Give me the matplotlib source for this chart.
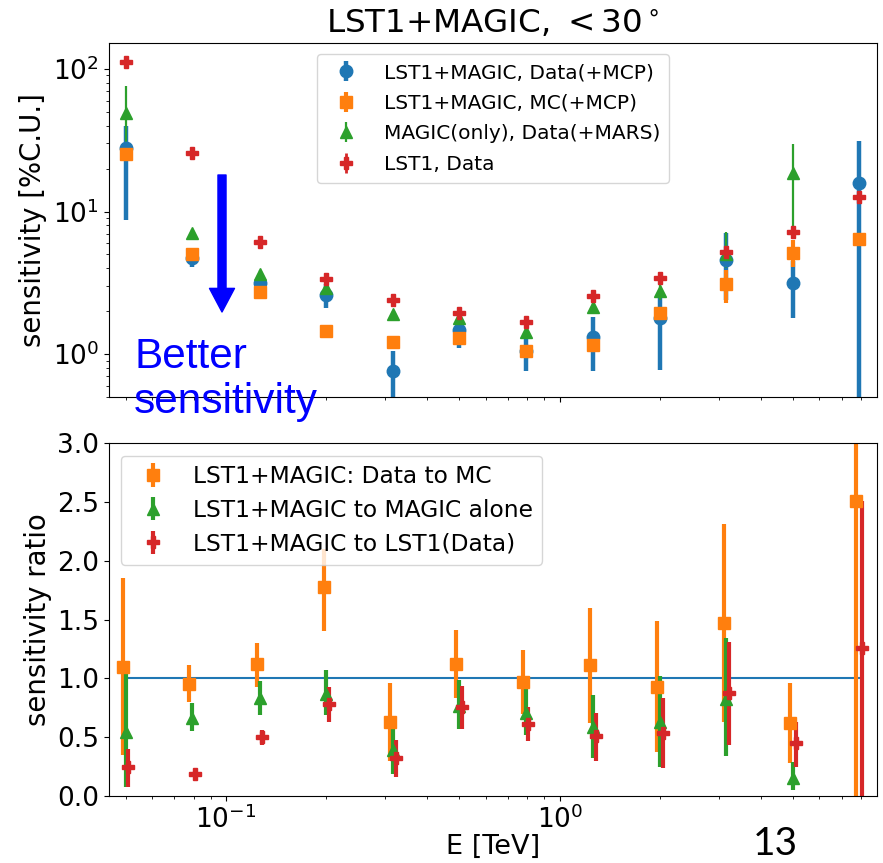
import numpy as np
import matplotlib
matplotlib.use("Agg")
import matplotlib.pyplot as plt

# ---------------- data ----------------
energy = [0.05, 0.079, 0.126, 0.2, 0.316, 0.5, 0.79, 1.26, 2.0, 3.16, 5.0, 7.9]

# top panel: sensitivity [%C.U.]  (value, lower end, upper end)
lm_data = [27.8, 4.7, 3.13, 2.59, 0.76, 1.47, 1.05, 1.31, 1.78, 4.57, 3.17, 15.9]
lm_data_lo = [8.7, 4.1, 2.9, 2.09, 0.3, 1.10, 0.76, 0.76, 0.77, 2.4, 1.78, 0.1]
lm_data_hi = [40.0, 5.2, 3.4, 3.1, 1.05, 1.8, 1.35, 1.83, 2.5, 7.05, 4.5, 31.4]

lm_mc = [25.3, 5.03, 2.74, 1.46, 1.22, 1.29, 1.05, 1.16, 1.93, 3.10, 5.14, 6.38]
lm_mc_lo = [23.5, 4.7, 2.6, 1.40, 1.15, 1.22, 1.0, 1.10, 1.80, 2.27, 4.1, 5.9]
lm_mc_hi = [27.0, 5.4, 2.9, 1.52, 1.30, 1.36, 1.10, 1.22, 2.05, 3.9, 6.3, 6.9]

magic = [48.9, 7.03, 3.64, 2.89, 1.91, 1.78, 1.42, 2.15, 2.78, 5.0, 18.5, np.nan]
magic_lo = [30.0, 6.6, 3.4, 2.7, 1.8, 1.65, 1.3, 1.95, 2.4, 4.0, 7.4, np.nan]
magic_hi = [76.0, 7.5, 3.9, 3.1, 2.0, 1.9, 1.55, 2.35, 3.1, 7.2, 29.8, np.nan]

lst1 = [112.0, 25.6, 6.14, 3.34, 2.39, 1.93, 1.69, 2.55, 3.40, 5.22, 7.14, 12.6]
lst1_lo = [105.0, 24.5, 5.8, 3.2, 2.28, 1.85, 1.62, 2.45, 3.25, 4.95, 6.8, 11.8]
lst1_hi = [120.0, 26.8, 6.5, 3.5, 2.5, 2.02, 1.77, 2.65, 3.55, 5.5, 7.5, 13.4]

# bottom panel: sensitivity ratio
r_mc = [1.10, 0.956, 1.118, 1.777, 0.625, 1.118, 0.965, 1.112, 0.928, 1.474, 0.617, 2.504]
r_mc_lo = [0.348, 0.80, 0.93, 1.40, 0.30, 0.829, 0.70, 0.62, 0.377, 0.63, 0.28, -0.5]
r_mc_hi = [1.853, 1.11, 1.30, 2.10, 0.96, 1.409, 1.24, 1.599, 1.488, 2.315, 0.957, 3.5]

r_magic = [0.546, 0.659, 0.829, 0.871, 0.39, 0.764, 0.702, 0.589, 0.631, 0.821, 0.15, np.nan]
r_magic_lo = [0.08, 0.55, 0.69, 0.69, 0.19, 0.573, 0.52, 0.32, 0.25, 0.34, 0.05, np.nan]
r_magic_hi = [1.04, 0.79, 0.98, 1.07, 0.57, 0.985, 0.93, 0.857, 1.02, 1.34, 0.29, np.nan]

r_lst1 = [0.249, 0.187, 0.498, 0.781, 0.32, 0.753, 0.608, 0.509, 0.532, 0.872, 0.447, 1.254]
r_lst1_lo = [0.08, 0.17, 0.43, 0.63, 0.16, 0.573, 0.47, 0.30, 0.234, 0.43, 0.25, -0.5]
r_lst1_hi = [0.403, 0.21, 0.56, 0.93, 0.48, 0.934, 0.76, 0.706, 0.83, 1.31, 0.63, 2.51]

ratio_ref = [1.0] * len(energy)

top_labels = ["LST1+MAGIC, Data(+MCP)", "LST1+MAGIC, MC(+MCP)",
              "MAGIC(only), Data(+MARS)", "LST1, Data"]
bottom_labels = ["LST1+MAGIC: Data to MC", "LST1+MAGIC to MAGIC alone",
                 "LST1+MAGIC to LST1(Data)"]

# ---------------- plot ----------------
W, H = 883, 863
fig = plt.figure(figsize=(W / 100, H / 100), dpi=100)
ax1 = fig.add_axes([109 / W, 1 - 397 / H, (877 - 109) / W, (397 - 43) / H])
ax2 = fig.add_axes([109 / W, 1 - 796 / H, (877 - 109) / W, (796 - 443) / H], sharex=ax1)

E = np.array(energy)


def err(v, lo, hi):
    v = np.array(v, float)
    return np.vstack([v - np.array(lo, float), np.array(hi, float) - v])


ms = 9
ax1.errorbar(E, lm_data, yerr=err(lm_data, lm_data_lo, lm_data_hi), fmt='o', color='tab:blue',
             ms=ms, elinewidth=3.2, label=top_labels[0])
ax1.errorbar(E, lm_mc, yerr=err(lm_mc, lm_mc_lo, lm_mc_hi), fmt='s', color='tab:orange',
             ms=ms, elinewidth=3.0, label=top_labels[1])
ax1.errorbar(E, magic, yerr=err(magic, magic_lo, magic_hi), fmt='^', color='tab:green',
             ms=ms, elinewidth=1.6, label=top_labels[2])
ax1.errorbar(E, lst1, yerr=err(lst1, lst1_lo, lst1_hi), fmt='P', color='tab:red',
             ms=ms, elinewidth=2.0, label=top_labels[3])
ax1.set_xscale('log')
ax1.set_yscale('log')
ax1.set_xlim(0.0446, 8.93)
ax1.set_ylim(0.5, 152)
ax1.set_ylabel('sensitivity [%C.U.]', fontsize=19.8)
ax1.set_title(r'LST1+MAGIC, $<30^\circ$', fontsize=23.4, pad=7)
ax1.tick_params(labelsize=19)
ax1.tick_params(axis='x', labelbottom=False)
ax1.legend(loc='upper center', bbox_to_anchor=(0.5, 0.997), fontsize=14.5,
           handletextpad=0.9, borderpad=0.45, labelspacing=0.57)

ax2.plot(E, ratio_ref, color='tab:blue', lw=1.5)
ax2.errorbar(E * 0.98, r_mc, yerr=err(r_mc, r_mc_lo, r_mc_hi), fmt='s', color='tab:orange',
             ms=ms, elinewidth=3.0, label=bottom_labels[0])
ax2.errorbar(E, r_magic, yerr=err(r_magic, r_magic_lo, r_magic_hi), fmt='^', color='tab:green',
             ms=ms, elinewidth=3.0, label=bottom_labels[1])
ax2.errorbar(E * 1.02, r_lst1, yerr=err(r_lst1, r_lst1_lo, r_lst1_hi), fmt='P', color='tab:red',
             ms=ms, elinewidth=3.0, label=bottom_labels[2])
ax2.set_ylim(0, 3.0)
ax2.set_yticks([0.0, 0.5, 1.0, 1.5, 2.0, 2.5, 3.0])
ax2.set_ylabel('sensitivity ratio', fontsize=19.8)
ax2.set_xlabel('E [TeV]', fontsize=19.5, labelpad=0)
ax2.tick_params(labelsize=19)
ax2.legend(loc='upper left', bbox_to_anchor=(0.0, 0.997), fontsize=16.8,
           handletextpad=0.7, borderpad=0.4, labelspacing=0.46)

# annotation arrow and text
ax1.annotate('', xy=(222, H - 312), xytext=(222, H - 175), xycoords='figure pixels',
             textcoords='figure pixels', annotation_clip=False,
             arrowprops=dict(color=(0, 0, 1), width=5.8, headwidth=18, headlength=17, shrink=0))
fig.text(134 / W, 1 - 368 / H, 'Better', color=(0, 0, 1), fontsize=30.5,
         family='Liberation Sans', va='baseline', ha='left')
fig.text(134 / W, 1 - 413 / H, 'sensitivity', color=(0, 0, 1), fontsize=30.5,
         family='Liberation Sans', va='baseline', ha='left')
fig.text(775 / W, 1 - 855 / H, '13', color='black', fontsize=28, family='Lato',
         va='baseline', ha='center')

fig.savefig('out.png', dpi=100)
